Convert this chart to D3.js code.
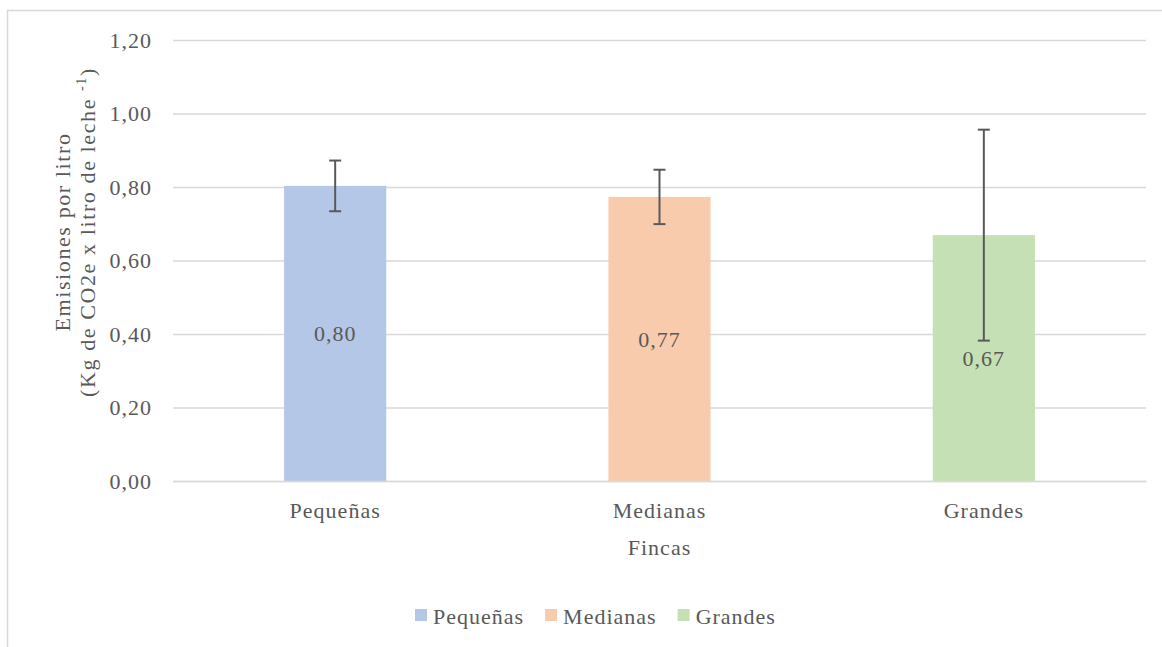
<!DOCTYPE html>
<html><head><meta charset="utf-8">
<script src="https://cdn.jsdelivr.net/npm/d3@7"></script>
</head><body style="margin:0;background:#fff">
<script>
const categories = ["Pequeñas","Medianas","Grandes"];
const values = [0.803,0.773,0.669];
const errors = [0.069,0.074,0.287];
const labels = ["0,80","0,77","0,67"];
const colors = ["#B4C7E7","#F8CBAD","#C5E0B4"];
const yTicks = [0,0.2,0.4,0.6,0.8,1.0,1.2];

(function(){
const W=1162,H=647, FONT="Liberation Serif", TC="#595959", FS=22, LS=1;
const svg=d3.select("body").append("svg").attr("width",W).attr("height",H)
  .style("display","block").attr("font-family",FONT);
svg.append("path").attr("d",`M7.5,${H} V10.5 H${W}`).attr("fill","none").attr("stroke","#D9D9D9").attr("stroke-width",1.5);

const pL=173,pR=1146,pT=40,pB=481;
const y=d3.scaleLinear().domain([0,1.2]).range([pB,pT]);
const x=d3.scaleBand().domain(categories).range([pL,pR]).paddingInner(0.685).paddingOuter(0.3425);

const fmt=d=>d3.format(".2f")(d).replace(".",",");
const ya=svg.append("g").attr("transform",`translate(${pL},0)`)
  .call(d3.axisLeft(y).tickValues(yTicks).tickSize(-(pR-pL)).tickFormat(fmt))
  .attr("font-family",FONT).attr("font-size",FS);
ya.select(".domain").remove();
ya.selectAll("line").attr("stroke","#D9D9D9").attr("stroke-width",1.5);
ya.selectAll("text").attr("x",-21).attr("dy",7).attr("fill",TC).attr("letter-spacing",LS).attr("font-family",FONT);

svg.selectAll("rect.bar").data(categories).join("rect").attr("class","bar")
  .attr("x",d=>x(d)).attr("width",x.bandwidth())
  .attr("y",(d,i)=>y(values[i])).attr("height",(d,i)=>y(0)-y(values[i]))
  .attr("fill",(d,i)=>colors[i]);

const eb=svg.append("g").attr("stroke","#595959").attr("stroke-width",2);
categories.forEach((c,i)=>{
  const cx=x(c)+x.bandwidth()/2, y1=y(values[i]+errors[i]), y2=y(values[i]-errors[i]);
  eb.append("line").attr("x1",cx).attr("x2",cx).attr("y1",y1).attr("y2",y2);
  eb.append("line").attr("x1",cx-6).attr("x2",cx+6).attr("y1",y1).attr("y2",y1);
  eb.append("line").attr("x1",cx-6).attr("x2",cx+6).attr("y1",y2).attr("y2",y2);
});

svg.selectAll("text.lbl").data(categories).join("text").attr("class","lbl")
  .attr("x",d=>x(d)+x.bandwidth()/2).attr("y",(d,i)=>(y(values[i])+y(0))/2)
  .attr("dy",8).attr("text-anchor","middle").attr("font-size",FS).attr("fill",TC).attr("letter-spacing",LS).attr("font-family",FONT)
  .text((d,i)=>labels[i]);

const xa=svg.append("g").attr("transform",`translate(0,${pB})`).call(d3.axisBottom(x).tickSize(0))
  .attr("font-family",FONT).attr("font-size",FS);
xa.select(".domain").attr("stroke","#D9D9D9").attr("stroke-width",1.5);
xa.selectAll("text").attr("dy",0).attr("y",37).attr("fill",TC).attr("letter-spacing",LS).attr("font-family",FONT);

svg.append("text").attr("x",(pL+pR)/2).attr("y",555).attr("text-anchor","middle").attr("font-family",FONT)
  .attr("font-size",FS).attr("fill",TC).attr("letter-spacing",LS).text("Fincas");

const TLS=1.6;
const yt=svg.append("text").attr("transform","translate(0,232) rotate(-90)").attr("text-anchor","middle")
  .attr("font-size",FS).attr("fill",TC).attr("letter-spacing",TLS).attr("font-family",FONT);
yt.append("tspan").attr("x",0).attr("y",70).text("Emisiones  por litro");
const l2=svg.append("text").attr("transform","translate(0,232) rotate(-90)").attr("text-anchor","middle")
  .attr("font-size",FS).attr("fill",TC).attr("letter-spacing",TLS).attr("font-family",FONT);
l2.append("tspan").attr("x",0).attr("y",95).text("(Kg de CO2e  x litro de leche ");
l2.append("tspan").attr("dy",-9).attr("font-size",14).text("-1");
l2.append("tspan").attr("dy",9).text(")");

const lg=svg.append("g").attr("transform","translate(0,624)");
let cx=415;
categories.forEach((c,i)=>{
  lg.append("rect").attr("x",cx).attr("y",-15).attr("width",12).attr("height",12).attr("fill",colors[i]);
  const t=lg.append("text").attr("x",cx+18).attr("y",0).attr("font-size",FS).attr("fill",TC).attr("letter-spacing",LS).attr("font-family",FONT).text(c);
  cx+=18+t.node().getComputedTextLength()+21;
});
})();
</script>
</body></html>
